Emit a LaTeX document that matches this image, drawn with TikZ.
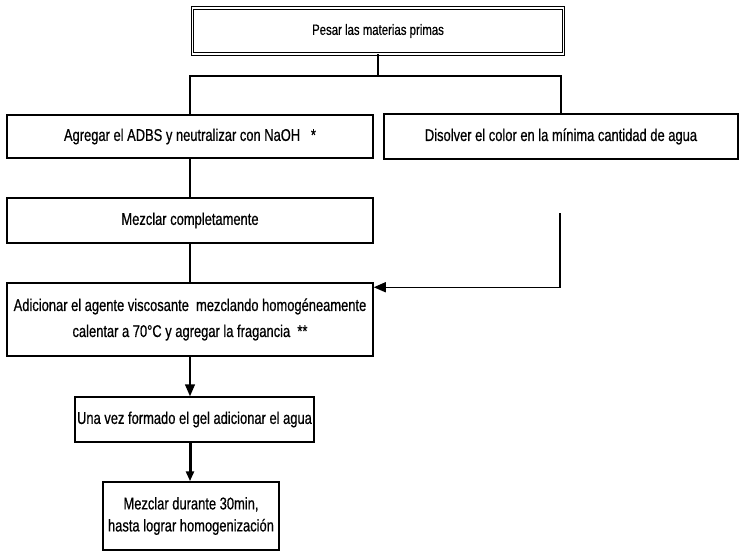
\documentclass[tikz,border=0pt]{standalone}
\usepackage{fontspec}
\setmainfont[FakeStretch=0.76,FakeBold=0.6]{Liberation Sans}
\usetikzlibrary{arrows.meta}
\begin{document}
\begin{tikzpicture}[x=1pt,y=-1pt,
  box/.style={draw, line width=1.5pt, inner sep=0pt, align=center, font=\fontsize{17}{26}\selectfont},
  link/.style={line width=1.5pt},
  arr/.style={line width=1.5pt, -{Triangle[length=12pt,width=10pt]}},
  thickarr/.style={line width=3pt, -{Triangle[length=10pt,width=8pt]}},
]
\useasboundingbox[fill=white] (0,0) rectangle (739,551);
\node[box, line width=1pt, double, double distance=1.5pt, minimum width=371pt, minimum height=46pt, font=\fontsize{15}{17}\selectfont] (b1) at (378,31) {Pesar las materias primas};
\node[box, minimum width=366pt, minimum height=43pt] (b2) at (190,136.5) {Agregar el ADBS y neutralizar con NaOH~~~*};
\node[box, minimum width=354pt, minimum height=45pt] (b3) at (561,136.5) {Disolver el color en la mínima cantidad de agua};
\node[box, minimum width=366pt, minimum height=45pt] (b4) at (190,220.5) {Mezclar completamente};
\node[box, minimum width=366pt, minimum height=73pt] (b5) at (190,319.5) {Adicionar el agente viscosante~ mezclando homogéneamente\\calentar a 70°C y agregar la fragancia~~**};
\node[box, minimum width=239pt, minimum height=45pt] (b6) at (194.5,419.5) {Una vez formado el gel adicionar el agua};
\node[box, minimum width=176pt, minimum height=68pt, font=\fontsize{17}{22}\selectfont] (b7) at (191,516) {Mezclar durante 30min,\\hasta lograr homogenización};
\coordinate (split) at (378,76);
\coordinate (rc) at (560,213);
\draw[link] (b1.south) -- (split);
\draw[link] (b2.north) |- (split) -| (b3.north);
\draw[link] (b2) -- (b4);
\draw[link] (b4) -- (b5);
\draw[arr] (rc) |- ([yshift=-5pt]b5.north east);
\draw[arr] (b5.south) -- (b5.south |- b6.north);
\draw[thickarr] (b5.south |- b6.south) -- (b5.south |- b7.north);
\end{tikzpicture}
\end{document}
